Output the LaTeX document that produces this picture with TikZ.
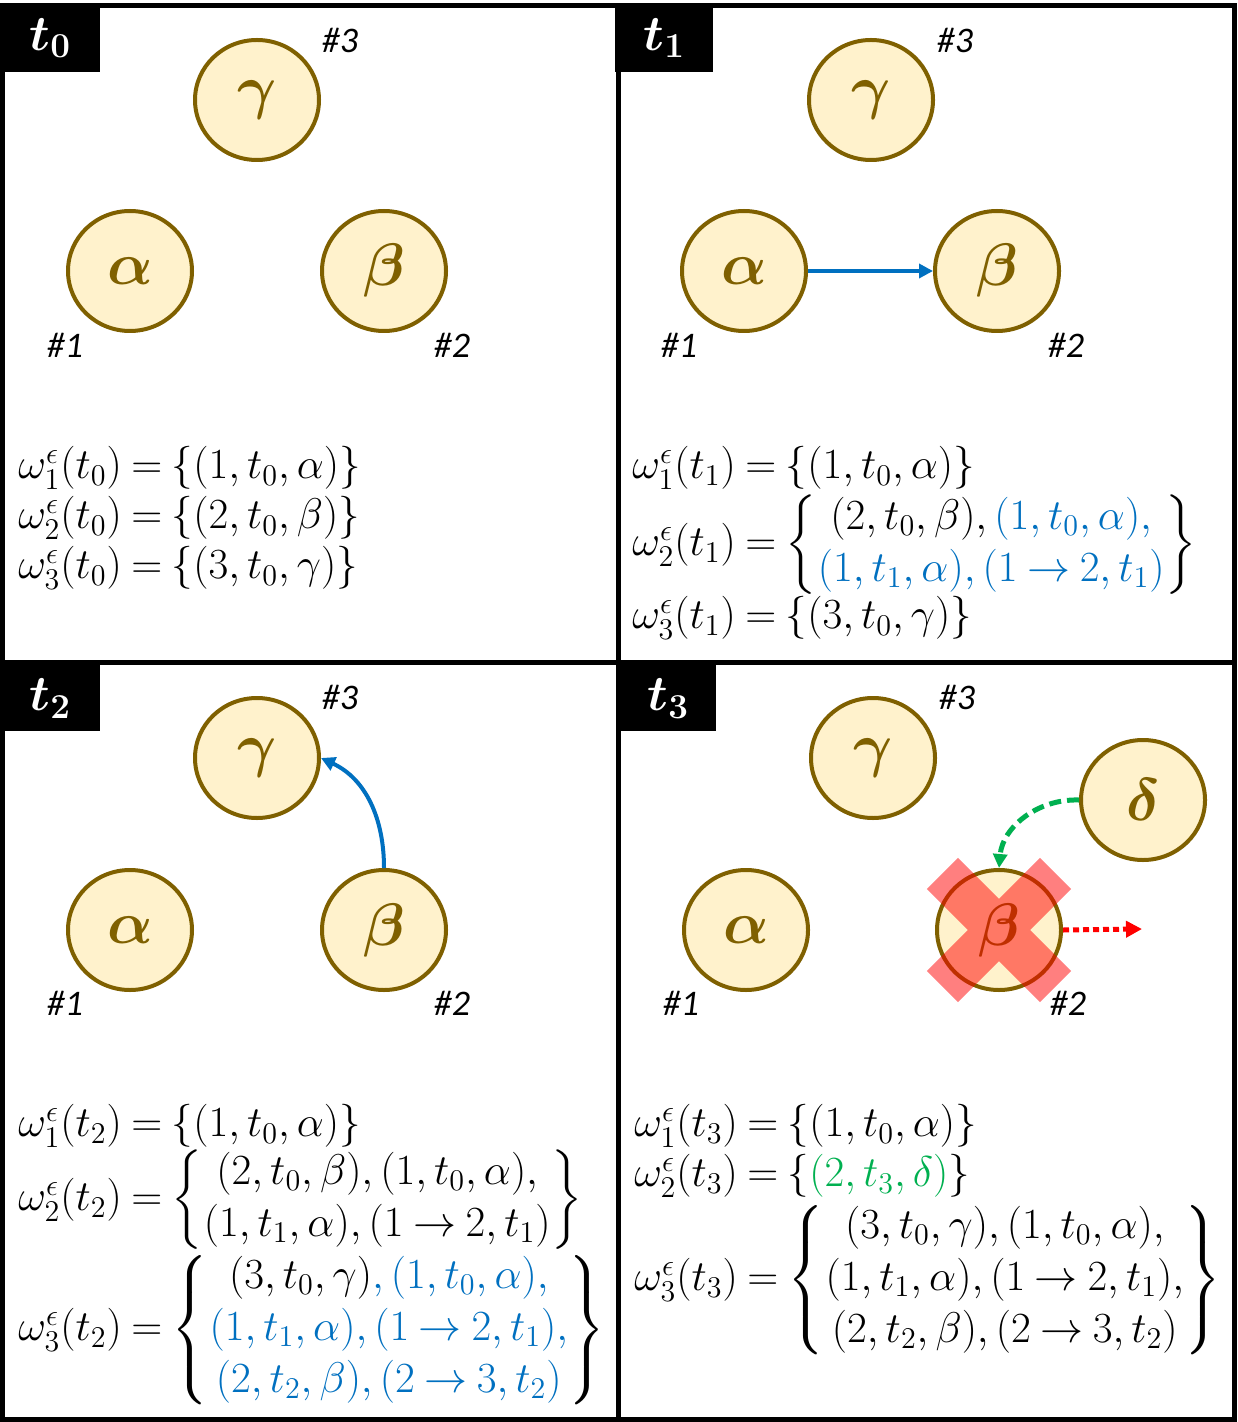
\RequirePackage{fix-cm}
\documentclass[tikz,border=0pt]{standalone}
\usepackage{fontspec}
\usepackage{amsmath,bm}
\usetikzlibrary{shapes.geometric,arrows.meta}
\newfontfamily\lblfont{Carlito}
\definecolor{nodefill}{HTML}{FFF2CC}
\definecolor{nodeline}{HTML}{7F6000}
\definecolor{myblue}{HTML}{0070C0}
\definecolor{mygreen}{HTML}{00B050}
\begin{document}
\begin{tikzpicture}[x=0.5pt,y=-0.5pt,
  agent/.style={ellipse, draw=nodeline, fill=nodefill, line width=2pt, minimum width=62pt, minimum height=60pt, inner sep=0pt, text=nodeline, font=\fontsize{30}{34}\selectfont},
  tag/.style={font=\lblfont\itshape\fontsize{18}{20}\selectfont, inner sep=0pt},
  tbox/.style={fill=black, text=white, inner sep=0pt, anchor=north west, font=\fontsize{25}{28}\selectfont},
  eq/.style={anchor=west, inner sep=0pt, font=\fontsize{21.5}{26}\selectfont},
  frame/.style={line width=2.5pt, draw=black},
  bluearrow/.style={draw=myblue, line width=2pt, -{Triangle[length=7pt,width=7pt]}},
  greenarrow/.style={draw=mygreen, line width=2.5pt, dash pattern=on 6pt off 3pt, -{Triangle[length=7pt,width=7pt]}},
  redarrow/.style={draw=red, line width=2.5pt, dash pattern=on 3pt off 2pt, -{Triangle[length=8pt,width=8pt]}},
  xmark/.style={fill=red, fill opacity=0.5}
]
\useasboundingbox (0,0) rectangle (1237,1422);
\fill[white] (0,0) rectangle (1237,1422);
\arraycolsep=0.5pt
\thickmuskip=4mu plus 2mu
% frames
\draw[frame] (2.5,6) rectangle (1234.5,1419);
\draw[frame] (618.5,6) -- (618.5,1419);
\draw[frame] (2.5,662.5) -- (1234.5,662.5);
% title boxes
\node[tbox, minimum width=50pt, minimum height=34.5pt] (T0) at (0,3) {$\bm{t_0}$};
\node[tbox, minimum width=49pt, minimum height=34.5pt] (T1) at (615,3) {$\bm{t_1}$};
\node[tbox, minimum width=50pt, minimum height=33pt] (T2) at (0,665) {$\bm{t_2}$};
\node[tbox, minimum width=48pt, minimum height=33pt] (T3) at (620,665) {$\bm{t_3}$};

% ---- panel t0
\node[agent] (g1) at (257,100) {$\bm{\gamma}$};
\node[agent] (a1) at (130,271) {$\bm{\alpha}$};
\node[agent] (b1) at (384,271) {$\bm{\beta}$};
\node[tag] (n13) at (340,40) {\#3};
\node[tag] (n11) at (65,345) {\#1};
\node[tag] (n12) at (452,345) {\#2};
\node[eq] (e01) at (18,468) {$\omega_1^{\epsilon}(t_0)=\{(1,t_0,\alpha)\}$};
\node[eq] (e02) at (18,518) {$\omega_2^{\epsilon}(t_0)=\{(2,t_0,\beta)\}$};
\node[eq] (e03) at (18,568) {$\omega_3^{\epsilon}(t_0)=\{(3,t_0,\gamma)\}$};

% ---- panel t1
\node[agent] (g2) at (871,100) {$\bm{\gamma}$};
\node[agent] (a2) at (744,271) {$\bm{\alpha}$};
\node[agent] (b2) at (997,271) {$\bm{\beta}$};
\node[tag] (n23) at (955,40) {\#3};
\node[tag] (n21) at (679,345) {\#1};
\node[tag] (n22) at (1066,345) {\#2};
\draw[bluearrow] (a2.east) -- (b2.west);
\node[eq] (e11) at (632,468) {$\omega_1^{\epsilon}(t_1)=\{(1,t_0,\alpha)\}$};
\node[eq] (e12) at (632,545) {$\omega_2^{\epsilon}(t_1)=\left\{\begin{array}{c}(2,t_0,\beta),{\color{myblue}(1,t_0,\alpha),}\\ {\color{myblue}(1,t_1,\alpha),(1\rightarrow 2,t_1)}\end{array}\right\}$};
\node[eq] (e13) at (632,618) {$\omega_3^{\epsilon}(t_1)=\{(3,t_0,\gamma)\}$};

% ---- panel t2
\node[agent] (g3) at (257,758) {$\bm{\gamma}$};
\node[agent] (a3) at (130,930) {$\bm{\alpha}$};
\node[agent] (b3) at (384,930) {$\bm{\beta}$};
\node[tag] (n33) at (340,697) {\#3};
\node[tag] (n31) at (65,1003) {\#1};
\node[tag] (n32) at (452,1003) {\#2};
\draw[bluearrow] (b3.north) to[out=90,in=-25] (g3.east);
\node[eq] (e21) at (18,1126) {$\omega_1^{\epsilon}(t_2)=\{(1,t_0,\alpha)\}$};
\node[eq] (e22) at (18,1200) {$\omega_2^{\epsilon}(t_2)=\left\{\begin{array}{c}(2,t_0,\beta),(1,t_0,\alpha),\\ (1,t_1,\alpha),(1\rightarrow 2,t_1)\end{array}\right\}$};
\node[eq] (e23) at (18,1330) {$\omega_3^{\epsilon}(t_2)=\left\{\begin{array}{c}(3,t_0,\gamma){\color{myblue},(1,t_0,\alpha),}\\ {\color{myblue}(1,t_1,\alpha),(1\rightarrow 2,t_1),}\\ {\color{myblue}(2,t_2,\beta),(2\rightarrow 3,t_2)}\end{array}\right\}$};

% ---- panel t3
\node[agent] (g4) at (873,758) {$\bm{\gamma}$};
\node[agent] (a4) at (746,930) {$\bm{\alpha}$};
\node[agent] (b4) at (999,930) {$\bm{\beta}$};
\node[agent] (d4) at (1143,800) {$\bm{\delta}$};
\node[tag] (n43) at (957,697) {\#3};
\node[tag] (n41) at (681,1003) {\#1};
\node[tag] (n42) at (1068,1003) {\#2};
\fill[xmark] (b4.center) ++(41.0,72.2) -- ++(31.2,-31.2) -- ++(-113.2,-113.2) -- ++(-31.2,31.2) -- cycle
  (b4.center) ++(72.2,-41.0) -- ++(-31.2,-31.2) -- ++(-113.2,113.2) -- ++(31.2,31.2) -- cycle;
\draw[greenarrow] (d4.west) to[out=178,in=85] (b4.north);
\coordinate (rend) at (1142,929);
\draw[redarrow] (b4.east) -- (rend);
\node[eq] (e31) at (634,1126) {$\omega_1^{\epsilon}(t_3)=\{(1,t_0,\alpha)\}$};
\node[eq] (e32) at (634,1176) {$\omega_2^{\epsilon}(t_3)=\{{\color{mygreen}(2,t_3,\delta)}\}$};
\node[eq] (e33) at (634,1280) {$\omega_3^{\epsilon}(t_3)=\left\{\begin{array}{c}(3,t_0,\gamma),(1,t_0,\alpha),\\ (1,t_1,\alpha),(1\rightarrow 2,t_1),\\ (2,t_2,\beta),(2\rightarrow 3,t_2)\end{array}\right\}$};
\end{tikzpicture}
\end{document}
